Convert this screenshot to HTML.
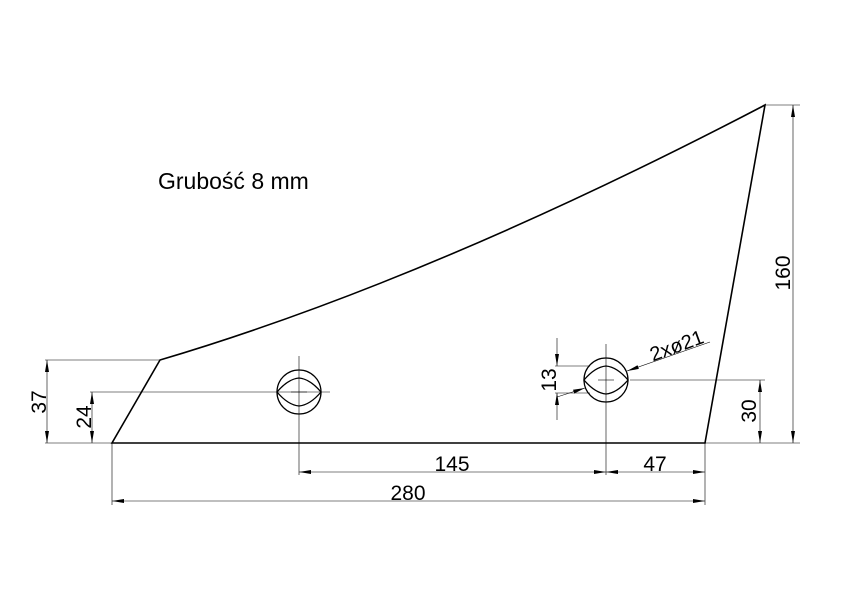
<!DOCTYPE html>
<html><head><meta charset="utf-8"><style>
html,body{margin:0;padding:0;background:#fff;}
svg{display:block;}
text{font-family:"Liberation Sans",sans-serif;fill:#000;}
</style></head><body>
<svg width="842" height="595" viewBox="0 0 842 595" xmlns="http://www.w3.org/2000/svg">
<defs>
<marker id="a" viewBox="0 0 12 4" refX="12" refY="2" markerWidth="12" markerHeight="4" orient="auto-start-reverse" markerUnits="userSpaceOnUse"><path d="M0,0 L12,2 L0,4z" fill="#000"/></marker>
</defs>
<path d="M112,443 L705,443 L765,105 Q430,280 160,360 Z" fill="none" stroke="#000" stroke-width="1.6"/>
<g fill="none" stroke="#000" stroke-width="1.3">
<circle cx="299" cy="392" r="22"/>
<path d="M277,392 Q288,379 299,378 Q310,379 321,392 Q310,405 299,406 Q288,405 277,392Z"/>
<circle cx="606" cy="380" r="22"/>
<path d="M584,380 Q595,367 606,366 Q617,367 628,380 Q617,393 606,394 Q595,393 584,380Z"/>
</g>
<g stroke="#000" stroke-width="0.6" fill="none">
<line x1="299" y1="356" x2="299" y2="475"/><line x1="291" y1="392" x2="307" y2="392"/>
<line x1="606" y1="344" x2="606" y2="475"/><line x1="598" y1="380" x2="614" y2="380"/>
<line x1="45" y1="360" x2="160" y2="360"/>
<line x1="45" y1="443" x2="112" y2="443"/>
<line x1="90" y1="392" x2="330" y2="392"/>
<line x1="112" y1="443" x2="112" y2="505"/>
<line x1="705" y1="443" x2="705" y2="505"/>
<line x1="765" y1="105" x2="800" y2="105"/>
<line x1="705" y1="443" x2="800" y2="443"/>
<line x1="630" y1="380" x2="765" y2="380"/>
<line x1="555" y1="366" x2="590" y2="366"/>
<line x1="555" y1="393" x2="590" y2="393"/>
<line x1="47" y1="360" x2="47" y2="443" marker-start="url(#a)" marker-end="url(#a)"/>
<line x1="92" y1="392" x2="92" y2="443" marker-start="url(#a)" marker-end="url(#a)"/>
<line x1="299" y1="472" x2="606" y2="472" marker-start="url(#a)" marker-end="url(#a)"/>
<line x1="606" y1="472" x2="705" y2="472" marker-start="url(#a)" marker-end="url(#a)"/>
<line x1="112" y1="501" x2="705" y2="501" marker-start="url(#a)" marker-end="url(#a)"/>
<line x1="793" y1="105" x2="793" y2="443" marker-start="url(#a)" marker-end="url(#a)"/>
<line x1="760" y1="380" x2="760" y2="443" marker-start="url(#a)" marker-end="url(#a)"/>
<line x1="557" y1="338" x2="557" y2="366" marker-end="url(#a)"/>
<line x1="557" y1="420" x2="557" y2="393" marker-end="url(#a)"/>
<line x1="557" y1="397" x2="585" y2="388" marker-end="url(#a)"/>
<line x1="710" y1="342" x2="627" y2="371" marker-end="url(#a)"/>
</g>
<text x="158" y="189" font-size="23">Grubość 8 mm</text>
<text x="452" y="471" font-size="21" text-anchor="middle">145</text>
<text x="655" y="471" font-size="21" text-anchor="middle">47</text>
<text x="408" y="500" font-size="21" text-anchor="middle">280</text>
<text transform="translate(46,402) rotate(-90)" font-size="21" text-anchor="middle">37</text>
<text transform="translate(91,417) rotate(-90)" font-size="21" text-anchor="middle">24</text>
<text transform="translate(790,273) rotate(-90)" font-size="21" text-anchor="middle">160</text>
<text transform="translate(756,411) rotate(-90)" font-size="21" text-anchor="middle">30</text>
<text transform="translate(556,380) rotate(-90)" font-size="21" text-anchor="middle">13</text>
<text transform="translate(679,352) rotate(-20)" font-size="20" text-anchor="middle">2xø21</text>
</svg>
</body></html>
